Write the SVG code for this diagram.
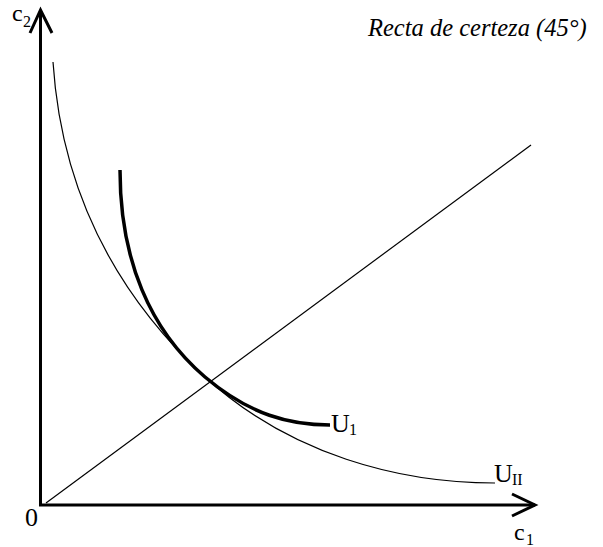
<svg xmlns="http://www.w3.org/2000/svg" width="603" height="547" viewBox="0 0 603 547">
<style>
.ax{stroke:#000;stroke-width:3;fill:none}
.thin{stroke:#000;stroke-width:1.2;fill:none}
.thick{stroke:#000;stroke-width:3.5;fill:none}
text{font-family:"Liberation Serif","Times New Roman",serif;fill:#000}
</style>
<rect width="603" height="547" fill="#fff"/>
<g id="axes">
<path class="ax" d="M40.5,10 V505 H535"/>
<path class="ax" d="M30,33 L40.5,10 L52,33"/>
<path class="ax" d="M512,494 L535,505 L512,516"/>
</g>
<g id="connectors">
<path id="certeza" class="thin" d="M46,503 L531,145"/>
<path id="UII-curve" class="thin" d="M53,62 C60,170 100,280 205,377 C290,455 400,483 495,483"/>
<path id="U1-curve" class="thick" d="M120,170 C120,260 150,330 205,377 C250,415 290,425 330,425"/>
</g>
<g id="labels">
<text x="12" y="21" font-size="24">c</text><text x="23" y="27" font-size="16">2</text>
<text x="25" y="526" font-size="26">0</text>
<text x="514" y="540" font-size="24">c</text><text x="526" y="545" font-size="16">1</text>
<text x="331" y="432" font-size="26">U</text><text x="349" y="435" font-size="16">1</text>
<text x="494" y="482" font-size="26">U</text><text x="512" y="485" font-size="16">II</text>
<text x="368" y="36" font-size="24.5" font-style="italic">Recta de certeza (45°)</text>
</g>
</svg>
